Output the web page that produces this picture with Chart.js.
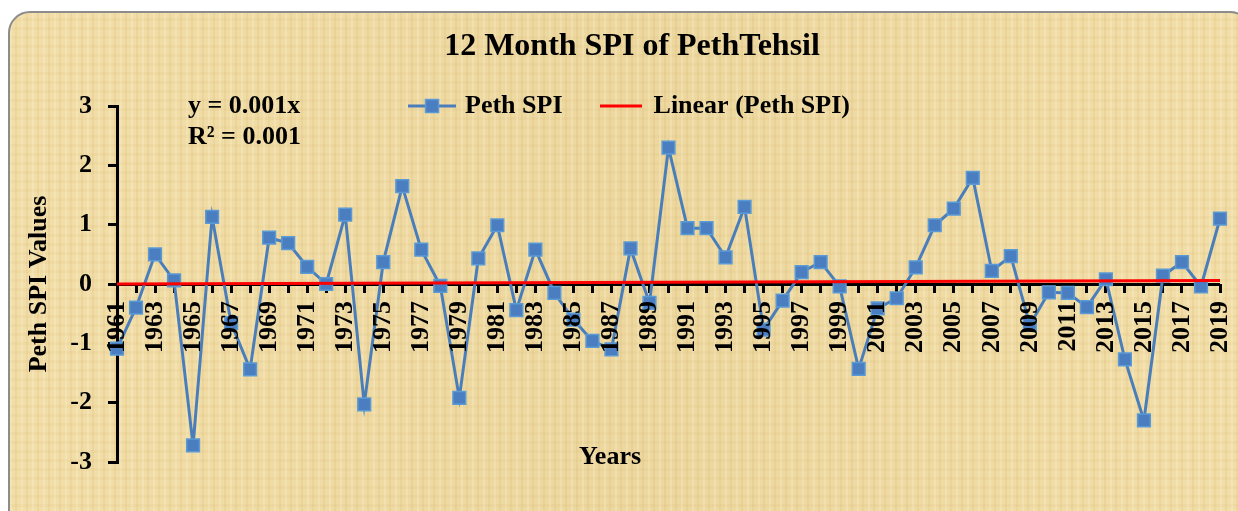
<!DOCTYPE html>
<html>
<head>
<meta charset="utf-8">
<title>12 Month SPI of PethTehsil</title>
<script src="https://cdn.jsdelivr.net/npm/chart.js@4.4.1/dist/chart.umd.min.js"></script>
<style>
  body { margin: 0; width: 1238px; height: 511px; overflow: hidden; position: relative; background: #fff; }
  #frame {
    position: absolute; left: 8px; top: 11px; width: 1240px; height: 530px;
    border: 2px solid #8c8c8c; border-radius: 22px;
    background-color: #eedaa4;
    background-image:
      repeating-linear-gradient(90deg, rgba(255,250,230,0.20) 0px, rgba(255,250,230,0.20) 2px, rgba(0,0,0,0) 2px, rgba(0,0,0,0) 5px, rgba(190,150,70,0.10) 5px, rgba(190,150,70,0.10) 7px, rgba(0,0,0,0) 7px, rgba(0,0,0,0) 11px),
      repeating-linear-gradient(0deg, rgba(200,160,80,0.08) 0px, rgba(200,160,80,0.08) 3px, rgba(0,0,0,0) 3px, rgba(0,0,0,0) 9px),
      linear-gradient(90deg, rgba(248,228,175,0.4), rgba(232,205,140,0.2), rgba(248,228,175,0.4));
  }
  canvas { position: absolute; left: 0; top: 0; }
</style>
</head>
<body>
<div id="frame"></div>
<canvas id="chart" width="1238" height="511"></canvas>
<script>
// data
var years = ['1961', '1962', '1963', '1964', '1965', '1966', '1967', '1968', '1969', '1970',
             '1971', '1972', '1973', '1974', '1975', '1976', '1977', '1978', '1979', '1980',
             '1981', '1982', '1983', '1984', '1985', '1986', '1987', '1988', '1989', '1990',
             '1991', '1992', '1993', '1994', '1995', '1996', '1997', '1998', '1999', '2000',
             '2001', '2002', '2003', '2004', '2005', '2006', '2007', '2008', '2009', '2010',
             '2011', '2012', '2013', '2014', '2015', '2016', '2017', '2018', '2019'];

var pethSpi = [-1.09, -0.40, 0.50, 0.06, -2.72, 1.13, -0.66, -1.44, 0.78, 0.69,
               0.29, 0.00, 1.17, -2.03, 0.37, 1.65, 0.58, -0.03, -1.92, 0.43,
               0.99, -0.44, 0.58, -0.15, -0.60, -0.96, -1.10, 0.60, -0.32, 2.30,
               0.94, 0.94, 0.45, 1.30, -0.77, -0.28, 0.20, 0.37, -0.04, -1.43,
               -0.41, -0.24, 0.28, 0.99, 1.27, 1.79, 0.22, 0.47, -0.69, -0.14,
               -0.15, -0.39, 0.08, -1.27, -2.30, 0.14, 0.37, -0.04, 1.10];

// trend line end points (y = 0.001x)
var trendYears = ['1961', '2019'];
var trendValues = [0.001, 0.059];
var trendText = ['y = 0.001x', 'R\u00b2 = 0.001'];

var yTicks = [-3, -2, -1, 0, 1, 2, 3];

var serif = '"Liberation Serif", "Times New Roman", serif';
var blue = '#4a7ebb';

// legend symbols
function legendSymbol(w, h, withSquare, color) {
    var c = document.createElement('canvas');
    c.width = w;
    c.height = h;
    var g = c.getContext('2d');
    g.strokeStyle = color;
    g.lineWidth = 3;
    g.beginPath();
    g.moveTo(0, h / 2);
    g.lineTo(w, h / 2);
    g.stroke();
    if (withSquare) {
        g.fillStyle = '#4a7ec1';
        g.fillRect(w / 2 - 6.5, h / 2 - 6.5, 13, 13);
        g.strokeStyle = '#5b9bd5';
        g.lineWidth = 1.5;
        g.strokeRect(w / 2 - 6.5, h / 2 - 6.5, 13, 13);
    }
    return c;
}
var spiSymbol = legendSymbol(48, 16, true, blue);
var trendSymbol = legendSymbol(42, 4, false, '#ff0000');

var extras = {
    id: 'extras',
    afterLayout: function (chart) {
        // legend sits on top of the plot area, a bit left of centre
        var lg = chart.legend;
        lg.left = 0;
        lg.right = 1262;
        lg.top = 55;
        lg.bottom = lg.top + 64;
    },
    afterDraw: function (chart) {
        var ctx = chart.ctx, area = chart.chartArea;
        ctx.save();
        ctx.fillStyle = '#000';
        ctx.textBaseline = 'middle';
        ctx.font = 'bold 26px ' + serif;
        ctx.textAlign = 'left';
        ctx.fillText(trendText[0], area.left + 71, area.top);
        ctx.fillText(trendText[1], area.left + 71, area.top + 31);
        ctx.textAlign = 'center';
        ctx.fillText('Years', area.left + 493, area.bottom - 5);
        ctx.restore();
    }
};

var chart = new Chart(document.getElementById('chart'), {
    type: 'line',
    data: {
        labels: years,
        datasets: [{
            label: 'Peth SPI',
            data: pethSpi,
            borderColor: blue,
            borderWidth: 3,
            pointStyle: 'rect',
            pointRadius: 9,
            pointBackgroundColor: '#4a7ec1',
            pointBorderColor: '#5b9bd5',
            pointBorderWidth: 1.5,
            tension: 0,
            order: 1
        }, {
            label: 'Linear (Peth SPI)',
            data: trendYears.map(function (y, i) { return { x: y, y: trendValues[i] }; }),
            borderColor: '#ff0000',
            borderWidth: 3,
            pointRadius: 0,
            order: 0
        }]
    },
    options: {
        responsive: false,
        animation: false,
        layout: { padding: { top: 18, left: 31, right: 5, bottom: 49 } },
        plugins: {
            title: {
                display: true,
                text: '12 Month SPI of PethTehsil',
                color: '#000',
                font: { family: serif, size: 32, weight: 'bold' },
                padding: { top: 10, bottom: 38.6 }
            },
            legend: {
                position: 'top',
                maxHeight: 1,
                labels: {
                    usePointStyle: true,
                    pointStyleWidth: 40,
                    padding: 38,
                    color: '#000',
                    font: { family: serif, size: 26, weight: 'bold' },
                    generateLabels: function (chart) {
                        return [
                            { text: 'Peth SPI', pointStyle: spiSymbol, datasetIndex: 0, hidden: false, lineWidth: 0, fontColor: '#000' },
                            { text: 'Linear (Peth SPI)', pointStyle: trendSymbol, datasetIndex: 1, hidden: false, lineWidth: 0, fontColor: '#000' }
                        ];
                    }
                }
            },
            tooltip: { enabled: false }
        },
        scales: {
            x: {
                position: { y: 0 },
                offset: false,
                afterFit: function (scale) { scale.paddingLeft = 0; scale.paddingRight = 18; },
                grid: { drawOnChartArea: false, color: '#000', lineWidth: 3, tickLength: 9 },
                border: { display: false },
                ticks: {
                    z: 1, // year labels sit over the line, as in the original
                    autoSkip: false,
                    minRotation: 90,
                    maxRotation: 90,
                    padding: 8,
                    color: '#000',
                    font: { family: serif, size: 26, weight: 'bold' },
                    callback: function (v, i) { return i % 2 === 0 ? years[i] : ''; }
                }
            },
            y: {
                min: yTicks[0],
                max: yTicks[yTicks.length - 1],
                afterFit: function (scale) { scale.width = 86; },
                afterBuildTicks: function (scale) {
                    scale.ticks = yTicks.map(function (v) { return { value: v }; });
                },
                grid: {
                    // only the zero line is drawn across the plot (the horizontal axis)
                    color: function (c) { return c.tick && c.tick.value === 0 ? '#000' : 'rgba(0,0,0,0)'; },
                    tickColor: '#000',
                    lineWidth: 3,
                    tickLength: 9
                },
                border: { color: '#000', width: 3 },
                ticks: {
                    padding: 16,
                    color: '#000',
                    font: { family: serif, size: 26, weight: 'bold' }
                },
                title: {
                    display: true,
                    text: 'Peth SPI Values',
                    color: '#000',
                    padding: { top: -7, bottom: 0 },
                    font: { family: serif, size: 26, weight: 'bold' }
                }
            }
        }
    },
    plugins: [extras]
});
</script>
</body>
</html>
